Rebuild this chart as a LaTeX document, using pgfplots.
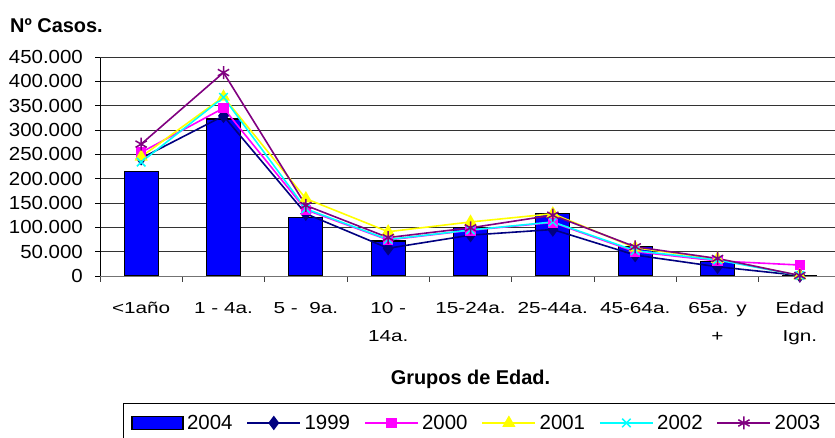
\documentclass[border=0pt]{standalone}
\usepackage{fontspec}
\setmainfont{Liberation Sans}
\newfontfamily\xtfont[FakeStretch=1.3]{Liberation Sans}
\newfontfamily\ytfont[FakeStretch=1.08]{Liberation Sans}
\usepackage{pgfplots}
\usepackage{pgfplotstable}
\pgfplotsset{compat=1.18}

\definecolor{navy}{HTML}{000080}
\definecolor{mag}{HTML}{FF00FF}
\definecolor{yel}{HTML}{FFFF00}
\definecolor{cya}{HTML}{00FFFF}
\definecolor{pur}{HTML}{800080}
\definecolor{barblue}{HTML}{0000FF}

\pgfplotsset{
  linelegend/.style={legend image code/.code={%
    \draw[mark repeat=2,mark phase=2,##1] plot coordinates {(0bp,0bp) (26.5bp,0bp) (53bp,0bp)};}},
  barlegend/.style={legend image code/.code={%
    \draw[##1] (0bp,-6.5bp) rectangle (51bp,6.5bp);}},
}

% grupos de edad: 0 = <1año ... 8 = Edad Ign.
\pgfplotstableread{
x y2004 y1999 y2000 y2001 y2002 y2003
0 215000 242000 254000 245000 234000 271000
1 322500 329000 345000 368000 367000 418000
2 120000 128000 136000 159000 138000 145000
3 72000  57000  74000  91000  75000  79000
4 100000 84000  94000  111000 94500  99000
5 128000 95500  110000 128000 111000 125000
6 60000  43000  50000  58000  52000  60000
7 29000  19000  31000  35000  33000  36000
8 1000   1000   22500  1000   1000   1000
}\casos

\begin{document}
\begin{tikzpicture}
\begin{axis}[
    scale only axis, width=741bp, height=219bp,
    at={(100bp,162bp)}, anchor=south west,
    xmin=-0.5, xmax=8.5, ymin=0, ymax=450000,
    scaled y ticks=false,
    axis x line*=bottom, axis y line*=left,
    x axis line style={black!55, line width=0.8bp},
    y axis line style={black, line width=0.8bp},
    xtick={0,...,8},
    xticklabels={<1año, 1 - 4a., 5 -\ \ 9a., {10 -\\14a.}, 15-24a., 25-44a., 45-64a., {65a. y\\+}, {Edad\\Ign.}},
    minor xtick={-0.5,0.5,...,8.5},
    major x tick style={draw=none},
    minor x tick style={black!75, line width=0.8bp},
    ytick={0,50000,...,400000},
    yticklabels={0,50.000,100.000,150.000,200.000,250.000,300.000,350.000,400.000},
    extra y ticks={450000}, extra y tick labels={450.000},
    extra y tick style={grid style={black!6, line width=0.8bp}},
    ymajorgrids, major grid style={black!80, line width=0.8bp},
    tick align=outside, major tick length=5bp, minor tick length=6bp,
    major y tick style={black, line width=0.8bp},
    xticklabel style={font=\xtfont\fontsize{16}{28}\selectfont, align=center, anchor=north, inner sep=0pt, yshift=-21bp},
    yticklabel style={font=\ytfont\fontsize{19}{22}\selectfont, anchor=east, inner sep=0pt, xshift=-12bp},
    xlabel={Grupos de Edad.},
    xlabel style={font=\bfseries\fontsize{20}{24}\selectfont, at={(axis description cs:0.5,-0.4932)}, anchor=base},
    legend columns=6,
    legend style={at={(axis description cs:0.031,-0.5785)}, anchor=north west,
        draw=black, line width=0.8bp, font=\fontsize{20.5}{24}\selectfont,
        inner xsep=8bp, inner ysep=10bp,
        /tikz/every even column/.append style={column sep=10.5bp},
        nodes={inner xsep=3.5bp}},
]
\addplot[ybar, bar width=34bp, fill=barblue, draw=black, line width=1.2bp, barlegend]
    table[x=x, y=y2004] {\casos};
\addplot[navy, line width=1.6bp, mark=diamond*, mark size=6bp, mark options={fill=navy}, linelegend]
    table[x=x, y=y1999] {\casos};
\addplot[mag, line width=1.6bp, mark=square*, mark size=4.5bp, mark options={fill=mag}, linelegend]
    table[x=x, y=y2000] {\casos};
\addplot[yel, line width=1.6bp, mark=triangle*, mark size=6bp, mark options={fill=yel}, linelegend]
    table[x=x, y=y2001] {\casos};
\addplot[cya, line width=1.6bp, mark=x, mark size=6bp, mark options={line width=1.5bp}, linelegend]
    table[x=x, y=y2002] {\casos};
\addplot[pur, line width=1.6bp, mark=asterisk, mark size=6.5bp, mark options={line width=1.5bp}, linelegend]
    table[x=x, y=y2003] {\casos};
\legend{2004,1999,2000,2001,2002,2003\hspace*{20bp}}
\end{axis}
\node[anchor=base west, font=\bfseries\fontsize{20}{24}\selectfont, inner sep=0pt] at (10bp,405bp) {Nº Casos.};
\pgfresetboundingbox
\path[use as bounding box] (0bp,0bp) rectangle (835bp,438bp);
\end{tikzpicture}
\end{document}
